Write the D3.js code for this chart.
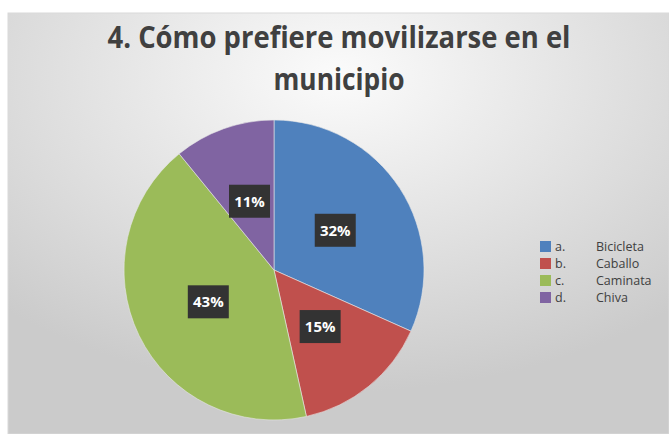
<!DOCTYPE html>
<html lang="es">
  <head>
    <meta charset="utf-8">
    <title>Cómo prefiere movilizarse</title>
    <script src="https://d3js.org/d3.v7.min.js"></script>
    <style>
      body { margin: 0; background: #fff; }
      svg { display: block; }
    </style>
  </head>
  <body>
    <script>
    // data
    var letters = ["a.", "b.", "c.", "d."];
    var categories = ["Bicicleta", "Caballo", "Caminata", "Chiva"];
    var values = [32, 15, 43, 11];
    var colors = ["#4f81bd", "#c0504d", "#9bbb59", "#8064a2"];
    var titleLines = ["4. Cómo prefiere movilizarse en el", "municipio"];

    var w = 669, h = 434;
    var svg = d3.select("body").append("svg")
                .attr("width", w)
                .attr("height", h);

    // background gradient of the chart area
    var defs = svg.append("defs");
    var grad = defs.append("radialGradient")
                   .attr("id", "bg")
                   .attr("cx", "50%").attr("cy", "15%")
                   .attr("r", "75%");
    grad.append("stop").attr("offset", "0%").attr("stop-color", "#fbfbfb");
    grad.append("stop").attr("offset", "100%").attr("stop-color", "#cbcbcb");

    svg.append("rect")
       .attr("x", 8).attr("y", 13)
       .attr("width", w - 8).attr("height", h - 13)
       .attr("fill", "url(#bg)")
       .attr("stroke", "#d9d9d9")
       .attr("stroke-width", 1);

    // title
    var title = svg.append("g")
                   .attr("font-family", "Open Sans, sans-serif")
                   .attr("font-weight", "bold")
                   .attr("font-size", 30)
                   .attr("fill", "#404040")
                   .attr("text-anchor", "middle");
    title.append("text")
         .attr("x", 339).attr("y", 48)
         .attr("textLength", 463)
         .attr("lengthAdjust", "spacingAndGlyphs")
         .text(titleLines[0]);
    title.append("text")
         .attr("x", 339).attr("y", 90)
         .attr("textLength", 131)
         .attr("lengthAdjust", "spacingAndGlyphs")
         .text(titleLines[1]);

    // pie
    var cx = 274, cy = 270, r = 150;
    var pie = d3.pie().sort(null).value(function(d) { return d; });
    var arc = d3.arc().innerRadius(0).outerRadius(r);
    var labelArc = d3.arc().innerRadius(73).outerRadius(73);

    var g = svg.append("g").attr("transform", "translate(" + cx + "," + cy + ")");
    var slices = pie(values);

    g.selectAll("path")
     .data(slices)
     .enter()
     .append("path")
     .attr("d", arc)
     .attr("fill", function(d, i) { return colors[i]; })
     .attr("stroke", "#e8e8e8")
     .attr("stroke-width", 0.6);

    var labels = g.selectAll("g.lbl")
                  .data(slices)
                  .enter()
                  .append("g")
                  .attr("class", "lbl")
                  .attr("transform", function(d) { return "translate(" + labelArc.centroid(d) + ")"; });
    labels.append("rect")
          .attr("x", -20.5).attr("y", -16.5)
          .attr("width", 41).attr("height", 33)
          .attr("fill", "#333333");
    labels.append("text")
          .attr("text-anchor", "middle")
          .attr("dy", "0.36em")
          .attr("font-family", "Open Sans, sans-serif")
          .attr("font-weight", "bold")
          .attr("font-size", 15)
          .attr("fill", "#ffffff")
          .text(function(d) { return d.data + "%"; });

    // legend
    var legend = svg.append("g")
                    .attr("font-family", "Open Sans, sans-serif")
                    .attr("font-size", 12.5)
                    .attr("fill", "#404040");
    var rows = legend.selectAll("g")
                     .data(categories)
                     .enter()
                     .append("g")
                     .attr("transform", function(d, i) { return "translate(540," + (241 + i * 17) + ")"; });
    rows.append("rect")
        .attr("width", 11).attr("height", 11)
        .attr("fill", function(d, i) { return colors[i]; });
    rows.append("text")
        .attr("x", 15).attr("y", 10)
        .text(function(d, i) { return letters[i]; });
    rows.append("text")
        .attr("x", 56).attr("y", 10)
        .text(function(d) { return d; });
    </script>
  </body>
</html>
